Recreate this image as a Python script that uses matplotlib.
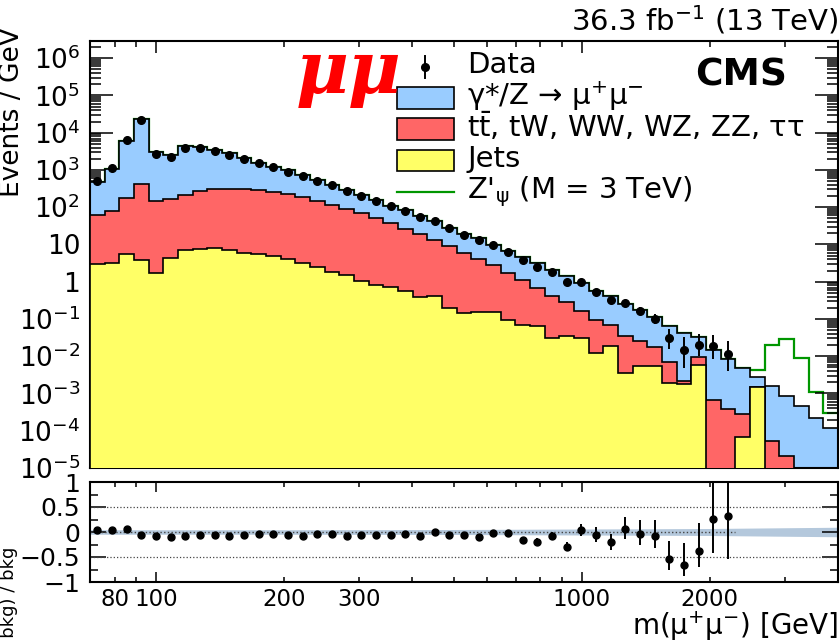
import numpy as np
import matplotlib
matplotlib.use("Agg")
import matplotlib.pyplot as plt
from matplotlib.patches import Rectangle
from matplotlib.lines import Line2D
from matplotlib.ticker import FixedLocator, FixedFormatter, NullFormatter

plt.rcParams['font.family'] = ['DejaVu Sans']
plt.rcParams['mathtext.fontset'] = 'dejavusans'

# ---------- binning (log-uniform, 70 - 4000 GeV) ----------
m_lo, m_hi, n_bins = 70, 4000, 51
edges = np.logspace(np.log10(m_lo), np.log10(m_hi), n_bins + 1)
centers = np.sqrt(edges[:-1] * edges[1:])

# ---------- backgrounds, events / GeV per bin ----------
jets = [3.05, 3.2, 5.4, 3.8, 1.72, 4.35, 7.2, 7.7, 8.0, 6.9,
        5.9, 5.4, 4.8, 4.1, 3.2, 2.5, 1.83, 1.55, 1.07, 0.83,
        0.71, 0.58, 0.38, 0.41, 0.20, 0.146, 0.152, 0.152, 0.095, 0.071,
        0.066, 0.031, 0.036, 0.030, 0.0125, 0.019, 0.0036, 0.0054, 0.0054, 0.0019,
        0.0018, 0.006, 0.0, 0.0, 6.9e-5, 0.0015, 0.0, 0.0, 0.0, 0.0, 0.0]
top_ew = [60, 78, 169, 416, 143, 162, 210, 269, 292, 301,
          302, 290, 253, 216, 180, 141.5, 115, 89.5, 69, 50.2,
          37.3, 25.9, 18.6, 13.0, 8.7, 5.75, 4.05, 2.62, 1.63, 1.07,
          0.614, 0.379, 0.254, 0.138, 0.0825, 0.048, 0.0304, 0.0196, 0.0121, 0.0052,
          0.0003, 0.0033, 0.00065, 0.00039, 0.00021, 0.0, 5.2e-5, 2.1e-5, 0.0, 0.0, 0.0]
dy = [424, 1003, 5871, 23128, 2812, 2390, 4087, 3851, 3157, 2507,
      1777, 1277, 952, 755, 545, 392, 284, 208, 146, 105,
      73, 56.2, 40.3, 28.9, 19.6, 13.6, 10.7, 6.83, 4.81, 3.45,
      2.47, 1.63, 1.12, 0.752, 0.479, 0.338, 0.220, 0.148, 0.0925, 0.0589,
      0.0405, 0.0243, 0.0140, 0.00826, 0.00462, 0.0013, 0.00155, 0.00083, 0.00046, 0.00022, 0.00012]
zprime = np.zeros(n_bins)
zprime[45:] = [0.0014, 0.018, 0.028, 0.0086, 0.0009, 0.00018]

# ---------- data ----------
data = [510, 1120, 6450, 22300, 2700, 2300, 3990, 3880, 3250, 2570,
        1960, 1520, 1170, 910, 675, 515, 385, 277, 205, 148,
        105, 80, 55, 42, 27, 18.5, 13.4, 9.5, 6.4, 3.9,
        2.55, 1.88, 1.0, 0.96, 0.54, 0.32, 0.27, 0.165, 0.101, 0.031,
        0.0145, 0.0205, 0.0185, 0.0115]
sym_err = [0.018, 0.012, 0.005, 0.003, 0.007, 0.007, 0.005, 0.005, 0.005, 0.006,
           0.006, 0.007, 0.0075, 0.008, 0.009, 0.010, 0.011, 0.013, 0.014, 0.016,
           0.018, 0.020, 0.023, 0.026, 0.031, 0.036, 0.040, 0.046, 0.054, 0.066,
           0.079, 0.088, 0.115, 0.114]
rel_up = sym_err + [0.16, 0.21, 0.22, 0.30, 0.36, 0.73, 1.28, 0.94, 0.96, 1.29]
rel_dn = sym_err + [0.14, 0.18, 0.19, 0.23, 0.27, 0.49, 0.66, 0.51, 0.54, 0.65]

# ratio panel uncertainty band
band_mass = [70, 200, 500, 1000, 2000, 3000, 4000]
band_half = [0.045, 0.045, 0.05, 0.06, 0.07, 0.085, 0.095]

c_blue, c_red, c_yellow, c_green = '#99ccff', '#ff6666', '#ffff66', '#009600'
c_band = '#b4c8dc'

# ---------- stack ----------
jets = np.array(jets)
lvl_yellow = jets
lvl_red = lvl_yellow + np.array(top_ew)
lvl_blue = lvl_red + np.array(dy)
lvl_sig = lvl_blue + zprime
base = 1e-8

data = np.array(data)
nd = len(data)
bkg = lvl_blue[:nd]
err_up = data * np.array(rel_up)
err_dn = data * np.array(rel_dn)
ratio = data / bkg - 1
r_up = err_up / bkg
r_dn = err_dn / bkg

# ---------- figure ----------
W, H = 840, 643
fig = plt.figure(figsize=(W / 100, H / 100), dpi=100)

def fx(x):
    return x / W

def fy(y):
    return 1 - y / H

ax = fig.add_axes([fx(90), fy(468), fx(838) - fx(90), fy(41) - fy(468)])
rax = fig.add_axes([fx(90), fy(582), fx(838) - fx(90), fy(482) - fy(582)])
for a in (ax, rax):
    a.set_xscale('log')
    a.set_xlim(m_lo, m_hi)
ax.set_yscale('log')
ax.set_ylim(1e-5, 2.9e6)
rax.set_ylim(-1, 1)

ax.stairs(np.maximum(lvl_sig, base), edges, baseline=None, color=c_green, lw=1.6, zorder=1)
ax.stairs(np.maximum(lvl_blue, base), edges, baseline=base, fill=True,
          facecolor=c_blue, edgecolor='k', lw=1.2, zorder=2)
ax.stairs(np.maximum(lvl_red, base), edges, baseline=base, fill=True,
          facecolor=c_red, edgecolor='k', lw=1.2, zorder=3)
ax.stairs(np.maximum(lvl_yellow, base), edges, baseline=base, fill=True,
          facecolor=c_yellow, edgecolor='k', lw=1.2, zorder=4)
ax.errorbar(centers[:nd], data, yerr=[err_dn, err_up], fmt='o', color='k',
            ms=5.5, elinewidth=1.4, capsize=0, zorder=6)

# y ticks
y_major = [10.0 ** p for p in range(-5, 7)]
y_labels = ['$10^{-5}$', '$10^{-4}$', '$10^{-3}$', '$10^{-2}$', '$10^{-1}$',
            '1', '10', '$10^{2}$', '$10^{3}$', '$10^{4}$', '$10^{5}$', '$10^{6}$']
y_minor = [s * 10.0 ** p for p in range(-5, 7) for s in range(2, 10)]
ax.yaxis.set_major_locator(FixedLocator(y_major))
ax.yaxis.set_major_formatter(FixedFormatter(y_labels))
ax.yaxis.set_minor_locator(FixedLocator(y_minor))
ax.yaxis.set_minor_formatter(NullFormatter())

# x ticks
x_major = [100, 1000]
x_minor = [80, 90, 200, 300, 400, 500, 600, 700, 800, 900, 2000, 3000]
x_minor_lab = ['80', '', '200', '300', '', '', '', '', '', '', '2000', '']
for a in (ax, rax):
    a.xaxis.set_major_locator(FixedLocator(x_major))
    a.xaxis.set_minor_locator(FixedLocator(x_minor))
ax.xaxis.set_major_formatter(NullFormatter())
ax.xaxis.set_minor_formatter(NullFormatter())

ax.tick_params(which='both', direction='in', top=True, right=True,
               labelbottom=False, width=1.1)
ax.tick_params(axis='y', which='major', length=16.5, labelsize=19, pad=7)
ax.tick_params(axis='y', which='minor', length=8)
ax.tick_params(axis='x', which='major', length=8.6)
ax.tick_params(axis='x', which='minor', length=4.3)

# ---------- ratio panel ----------
rax.fill_between(band_mass, -np.array(band_half), band_half, color=c_band, lw=0, zorder=1)
rax.axhline(0.5, ls=':', color='#444444', lw=0.9, zorder=2)
rax.axhline(-0.5, ls=':', color='#444444', lw=0.9, zorder=2)
rax.plot([edges[0], edges[nd]], [0, 0], ls=':', color='#444444', lw=1.0, zorder=2)
rax.errorbar(centers[:nd], ratio, yerr=[r_dn, r_up], fmt='o', color='k',
             ms=5, elinewidth=1.4, capsize=0, zorder=5)

rax.yaxis.set_major_locator(FixedLocator([-1, -0.5, 0, 0.5, 1]))
rax.yaxis.set_major_formatter(FixedFormatter(['\u22121', '\u22120.5', '0', '0.5', '1']))
rax.yaxis.set_minor_locator(FixedLocator([-0.75, -0.25, 0.25, 0.75]))
rax.xaxis.set_major_formatter(FixedFormatter(['100', '1000']))
rax.xaxis.set_minor_formatter(FixedFormatter(x_minor_lab))
rax.tick_params(which='both', direction='in', top=True, right=True, width=1.1)
rax.tick_params(axis='y', which='major', length=11.5, labelsize=18, pad=7)
rax.tick_params(axis='y', which='minor', length=5.8)
rax.tick_params(axis='x', which='major', length=7.2, labelsize=16.5, pad=4)
rax.tick_params(axis='x', which='minor', length=3.6, labelsize=16.5, pad=4)

for a in (ax, rax):
    for s in a.spines.values():
        s.set_linewidth(1.5)

# ---------- texts ----------
fig.text(fx(838), fy(31), '36.3 fb$^{-1}$ (13 TeV)', ha='right', va='baseline', fontsize=21)
fig.text(fx(787), fy(85), 'CMS', ha='right', va='baseline', fontsize=27, weight='bold')
fig.text(fx(296), fy(93), '\u03bc\u03bc', ha='left', va='baseline', fontsize=52,
         color='#ff0000', family='DejaVu Serif', weight='bold', style='italic', zorder=10)
fig.text(fx(838), fy(635), 'm(\u03bc$^{+}$\u03bc$^{-}$) [GeV]', ha='right', va='baseline',
         fontsize=20)
fig.text(fx(25), fy(27), 'Events / GeV', rotation=90, ha='right', va='top', fontsize=19)
fig.text(fx(18), fy(547), '(data \u2212 bkg) / bkg', rotation=90, ha='right', va='top',
         fontsize=13)

# ---------- legend (drawn by hand, ROOT style) ----------
tf = fig.transFigure
box_x0, box_x1 = 397, 454
for (y0, y1), col in zip([(87, 109), (118, 140), (150, 171)], [c_blue, c_red, c_yellow]):
    fig.add_artist(Rectangle((fx(box_x0), fy(y1)), fx(box_x1) - fx(box_x0), fy(y0) - fy(y1),
                             transform=tf, facecolor=col, edgecolor='k', lw=1.2))
fig.add_artist(Line2D([fx(box_x0), fx(box_x1)], [fy(192), fy(192)], transform=tf,
                      color=c_green, lw=1.6))
fig.add_artist(Line2D([fx(425), fx(425)], [fy(56), fy(78)], transform=tf, color='k', lw=1.4))
fig.add_artist(Line2D([fx(425)], [fy(67)], transform=tf, color='k', marker='o', ms=5.5))

leg_labels = ['Data',
              '\u03b3*/Z \u2192 \u03bc$^{+}$\u03bc$^{-}$',
              't$\\bar{\\mathrm{t}}$, tW, WW, WZ, ZZ, \u03c4\u03c4',
              'Jets',
              "Z'$_{\\mathrm{\u03c8}}$ (M = 3 TeV)"]
for lab, yb in zip(leg_labels, [73, 105, 137, 167, 198]):
    fig.text(fx(467), fy(yb), lab, ha='left', va='baseline', fontsize=21)

fig.savefig('out.png', dpi=100)
